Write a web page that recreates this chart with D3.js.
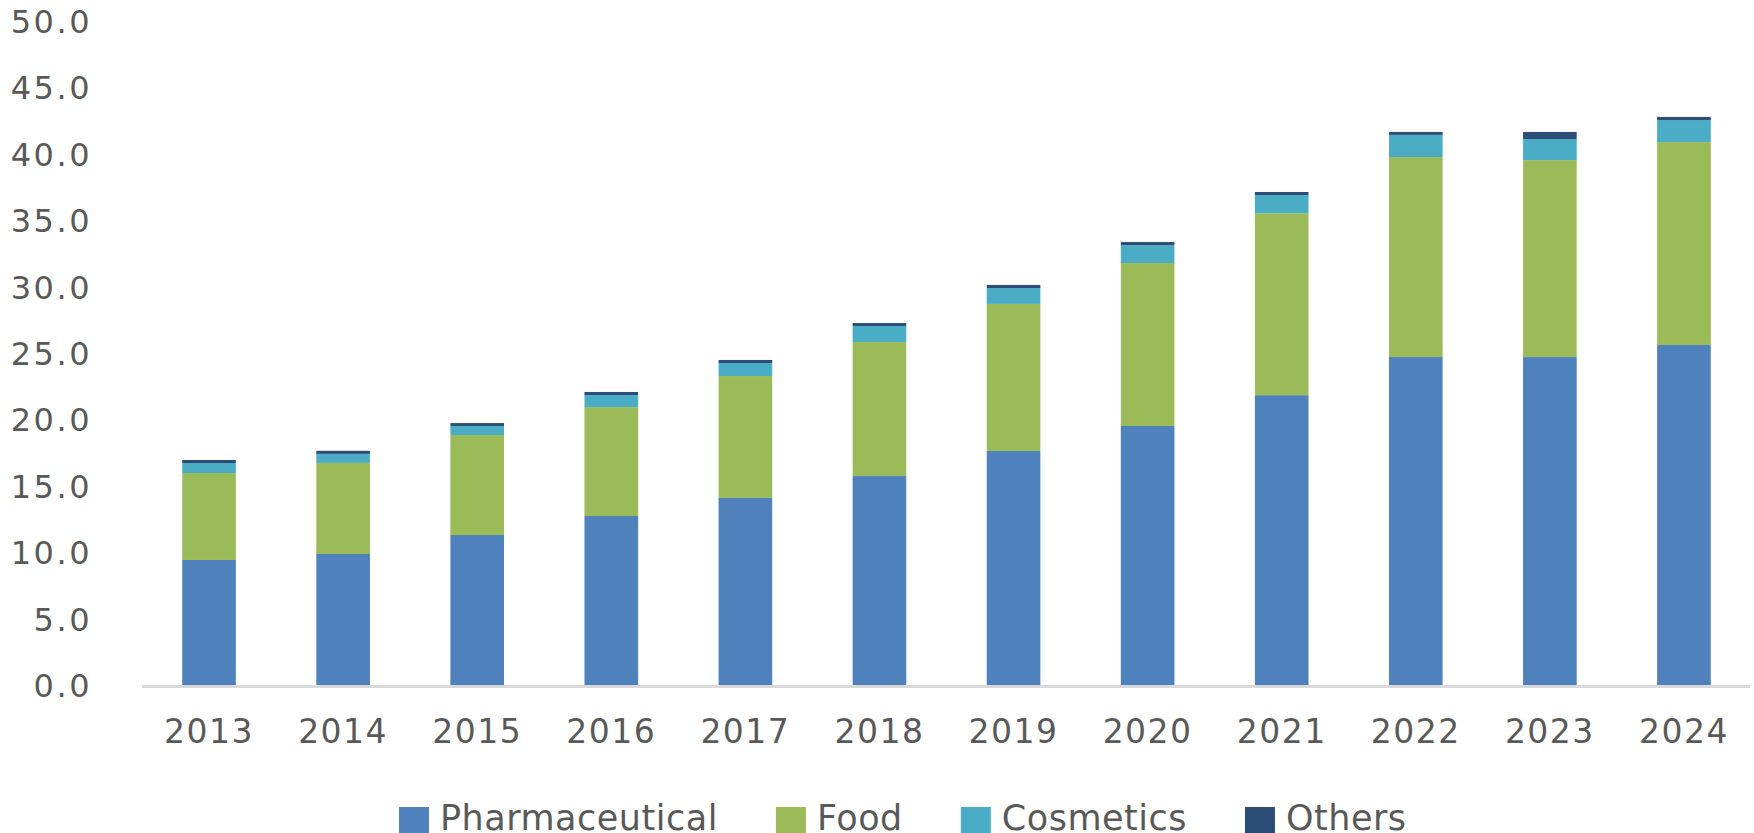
<!DOCTYPE html>
<html>
<head>
<meta charset="utf-8">
<script src="https://cdn.jsdelivr.net/npm/d3@7"></script>
<style>
  body { margin: 0; background: #fff; }
  svg text { font-family: "DejaVu Sans", Verdana, sans-serif; fill: #595959; }
</style>
</head>
<body>
<div id="chart"></div>
<script>
const years = ["2013","2014","2015","2016","2017","2018","2019","2020","2021","2022","2023","2024"]
const pharmaceutical = [9.49, 9.94, 11.37, 12.80, 14.16, 15.81, 17.70, 19.58, 21.90, 24.77, 24.77, 25.68]
const food           = [6.55, 6.86, 7.53, 8.20, 9.18, 10.09, 11.07, 12.27, 13.70, 15.06, 14.83, 15.28]
const cosmetics      = [0.75, 0.68, 0.68, 0.91, 0.98, 1.21, 1.20, 1.35, 1.37, 1.67, 1.59, 1.66]
const others         = [0.23, 0.23, 0.22, 0.23, 0.23, 0.22, 0.23, 0.23, 0.23, 0.22, 0.53, 0.23]
const seriesNames = ["Pharmaceutical", "Food", "Cosmetics", "Others"]
const yTicks = [0, 5, 10, 15, 20, 25, 30, 35, 40, 45, 50]

const COLORS = ["#4f81bd", "#9bbb59", "#4bacc6", "#2c4d75"]
const WIDTH = 1754, HEIGHT = 833

const svg = d3.select("#chart").append("svg")
    .attr("width", WIDTH)
    .attr("height", HEIGHT)

const table = years.map((y, i) => ({
    year: y,
    Pharmaceutical: pharmaceutical[i],
    Food: food[i],
    Cosmetics: cosmetics[i],
    Others: others[i]
}))

const stacked = d3.stack().keys(seriesNames)(table)

const x = d3.scaleBand()
    .domain(years)
    .range([142, 1751])
    .paddingInner(0.6)
    .paddingOuter(0.3)

const y = d3.scaleLinear()
    .domain([0, 50])
    .range([686, 22])

// y labels (no axis line, no gridlines)
svg.append("g")
    .selectAll("text")
    .data(yTicks)
    .enter().append("text")
    .attr("x", 92)
    .attr("y", d => y(d) + 11)
    .attr("text-anchor", "end")
    .attr("font-size", 32)
    .attr("letter-spacing", 2.5)
    .text(d => d3.format(".1f")(d))

// bars
const layers = svg.append("g")
    .selectAll("g")
    .data(stacked)
    .enter().append("g")
    .attr("fill", (d, i) => COLORS[i])

layers.selectAll("rect")
    .data(d => d)
    .enter().append("rect")
    .attr("x", d => x(d.data.year))
    .attr("y", d => y(d[1]))
    .attr("width", x.bandwidth())
    .attr("height", d => y(d[0]) - y(d[1]))

// x axis line
svg.append("line")
    .attr("x1", 142).attr("x2", 1750)
    .attr("y1", y(0) + 0.5).attr("y2", y(0) + 0.5)
    .attr("stroke", "#d9d9d9")
    .attr("stroke-width", 3)

// x labels
svg.append("g")
    .selectAll("text")
    .data(years)
    .enter().append("text")
    .attr("x", d => x(d) + x.bandwidth() / 2)
    .attr("y", 743)
    .attr("text-anchor", "middle")
    .attr("font-size", 33)
    .attr("letter-spacing", 1.5)
    .text(d => d)

// legend
const legend = svg.append("g")
let lx = 399
seriesNames.forEach((name, i) => {
    legend.append("rect")
        .attr("x", lx).attr("y", 807)
        .attr("width", 30).attr("height", 26)
        .attr("fill", COLORS[i])
    const t = legend.append("text")
        .attr("x", lx + 41)
        .attr("y", 830)
        .attr("font-size", 35)
        .attr("letter-spacing", 0.5)
        .text(name)
    lx += 41 + t.node().getComputedTextLength() + 58
})
</script>
</body>
</html>
